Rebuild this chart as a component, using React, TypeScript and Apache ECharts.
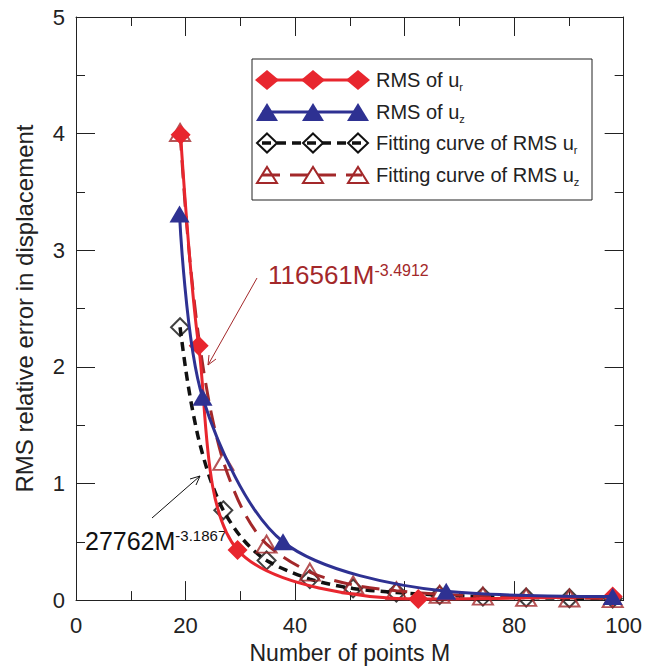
import React, { useEffect, useRef } from "react";
import * as echarts from "echarts";

// ---- data ----
const rmsUr: [number, number][] = [
  [19.1, 3.99], [22.4, 2.18], [29.5, 0.43], [62.5, 0.01], [98, 0.03],
];
const rmsUz: [number, number][] = [
  [18.9, 3.31], [23.1, 1.74], [37.8, 0.5], [67.6, 0.075], [98, 0.03],
];
const fitUrMarkers: [number, number][] = [
  [19, 2.34], [26.9, 0.77], [34.8, 0.34], [42.7, 0.18], [50.6, 0.1], [58.5, 0.065],
  [66.4, 0.043], [74.3, 0.03], [82.2, 0.022], [90.1, 0.016], [98, 0.013],
];
const fitUzMarkers: [number, number][] = [
  [19, 4.01], [26.9, 1.19], [34.8, 0.48], [42.7, 0.24], [50.6, 0.13], [58.5, 0.08],
  [66.4, 0.05], [74.3, 0.034], [82.2, 0.024], [90.1, 0.018], [98, 0.013],
];
const fitUrCurve: [number, number][] = [
  [19, 2.34], [20, 1.99], [21, 1.7], [22.5, 1.36], [24.5, 1.04], [26.9, 0.77],
  [30.5, 0.52], [34.8, 0.34], [42.7, 0.18], [50.6, 0.1], [58.5, 0.065], [66.4, 0.043],
  [74.3, 0.03], [82.2, 0.022], [90.1, 0.016], [98, 0.013],
];
const fitUzCurve: [number, number][] = [
  [19, 4.01], [20, 3.34], [21, 2.82], [22.5, 2.22], [24.5, 1.65], [26.9, 1.19],
  [30.5, 0.77], [34.8, 0.48], [42.7, 0.24], [50.6, 0.13], [58.5, 0.08], [66.4, 0.05],
  [74.3, 0.034], [82.2, 0.024], [90.1, 0.018], [98, 0.013],
];
const xTitle = "Number of points M";
const yTitle = "RMS relative error in displacement";
const legendNames = [
  ["RMS of u", "r"],
  ["RMS of u", "z"],
  ["Fitting curve of RMS u", "r"],
  ["Fitting curve of RMS u", "z"],
];
const fitUzLabel = ["116561M", "-3.4912"];
const fitUrLabel = ["27762M", "-3.1867"];

const RED = "#E8262E";
const BLUE = "#2E3192";
const BROWN = "#A3282A";
const BLACK = "#111";
const FONT = "Liberation Sans";
const AXIS = "#222";

function axisCommon(show: boolean) {
  return {
    type: "value" as const,
    axisLine: { show: true, onZero: false, lineStyle: { color: AXIS, width: 1 } },
    axisTick: { show: true, inside: true, length: 19, lineStyle: { color: AXIS, width: 1 } },
    minorTick: { show: true, splitNumber: 2, length: 9, lineStyle: { color: AXIS, width: 1 } },
    splitLine: { show: false },
    minorSplitLine: { show: false },
    axisLabel: { show, fontSize: 22, color: AXIS, fontFamily: FONT },
  };
}

export default function App() {
  const ref = useRef<HTMLDivElement>(null);
  useEffect(() => {
    if (!ref.current) return;
    const chart = echarts.init(ref.current, null, { renderer: "svg" });

    const rowY = [80, 112, 143, 175];
    const mx = [267, 313, 358];
    const legendEls: any[] = [
      {
        type: "rect",
        shape: { x: 252, y: 59, width: 340, height: 141 },
        style: { fill: "#fff", stroke: AXIS, lineWidth: 1 },
      },
    ];
    const diamond = (x: number, y: number, w: number, h: number) => [
      [x, y - h / 2], [x + w / 2, y], [x, y + h / 2], [x - w / 2, y],
    ];
    const tri = (x: number, y: number, w: number, h: number) => [
      [x - w / 2, y + h / 2], [x + w / 2, y + h / 2], [x, y - h / 2],
    ];
    // row 1: red
    legendEls.push({ type: "line", shape: { x1: 262, y1: rowY[0], x2: 362, y2: rowY[0] }, style: { stroke: RED, lineWidth: 3 } });
    mx.forEach((x) => legendEls.push({ type: "polygon", shape: { points: diamond(x, rowY[0], 24, 20) }, style: { fill: RED } }));
    // row 2: blue
    legendEls.push({ type: "line", shape: { x1: 262, y1: rowY[1], x2: 362, y2: rowY[1] }, style: { stroke: BLUE, lineWidth: 3 } });
    mx.forEach((x) => legendEls.push({ type: "polygon", shape: { points: tri(x, rowY[1], 22, 18) }, style: { fill: BLUE } }));
    // row 3: black dashed
    legendEls.push({ type: "line", shape: { x1: 262, y1: rowY[2], x2: 362, y2: rowY[2] }, style: { stroke: BLACK, lineWidth: 3.5, lineDash: [9, 6] } });
    mx.forEach((x) => legendEls.push({ type: "polygon", shape: { points: diamond(x, rowY[2], 20, 19) }, style: { fill: "none", stroke: BLACK, lineWidth: 2 } }));
    // row 4: brown dashed
    legendEls.push({ type: "line", shape: { x1: 262, y1: rowY[3], x2: 362, y2: rowY[3] }, style: { stroke: BROWN, lineWidth: 3, lineDash: [18, 10] } });
    mx.forEach((x) => legendEls.push({ type: "polygon", shape: { points: tri(x, rowY[3], 20, 16) }, style: { fill: "none", stroke: BROWN, lineWidth: 2 } }));
    legendNames.forEach(([main, sub], i) => {
      legendEls.push({
        type: "text",
        x: 376,
        y: rowY[i],
        style: {
          text: `{m|${main}}{s|${sub}}`,
          verticalAlign: "middle",
          fill: AXIS,
          rich: {
            m: { fontSize: 20, fontFamily: FONT, fill: AXIS, lineHeight: 24, verticalAlign: "middle" },
            s: { fontSize: 11, fontFamily: FONT, fill: AXIS, lineHeight: 11, verticalAlign: "bottom" },
          },
        },
      });
    });

    const annotations: any[] = [
      {
        type: "text",
        x: 268,
        y: 262,
        style: {
          text: `{m|${fitUzLabel[0]}}{s|${fitUzLabel[1]}}`,
          verticalAlign: "top",
          rich: {
            m: { fontSize: 26, fontFamily: FONT, fill: BROWN, lineHeight: 26, verticalAlign: "top" },
            s: { fontSize: 16, fontFamily: FONT, fill: BROWN, lineHeight: 16, verticalAlign: "top" },
          },
        },
      },
      { type: "line", shape: { x1: 257, y1: 278, x2: 208, y2: 365 }, style: { stroke: BROWN, lineWidth: 1 } },
      { type: "polyline", shape: { points: [[216, 359], [208, 365], [209, 355]] }, style: { stroke: BROWN, lineWidth: 1, fill: "none" } },
      {
        type: "text",
        x: 85,
        y: 528,
        style: {
          text: `{m|${fitUrLabel[0]}}{s|${fitUrLabel[1]}}`,
          verticalAlign: "top",
          rich: {
            m: { fontSize: 25, fontFamily: FONT, fill: BLACK, lineHeight: 26, verticalAlign: "top" },
            s: { fontSize: 15, fontFamily: FONT, fill: BLACK, lineHeight: 16, verticalAlign: "top" },
          },
        },
      },
      { type: "line", shape: { x1: 152, y1: 518, x2: 200, y2: 476 }, style: { stroke: BLACK, lineWidth: 1 } },
      { type: "polyline", shape: { points: [[190, 479], [200, 476], [196, 485]] }, style: { stroke: BLACK, lineWidth: 1, fill: "none" } },
    ];

    chart.setOption({
      animation: false,
      backgroundColor: "#fff",
      textStyle: { fontFamily: FONT },
      grid: { left: 76, right: 20, top: 17, bottom: 67, containLabel: false },
      xAxis: [
        {
          ...axisCommon(true),
          min: 0, max: 100, interval: 20, position: "bottom",
          axisLabel: { show: true, fontSize: 22, color: AXIS, fontFamily: FONT, margin: 14 },
          name: xTitle, nameLocation: "middle", nameGap: 36,
          nameTextStyle: { fontSize: 23, color: AXIS, fontFamily: FONT },
        },
        { ...axisCommon(false), min: 0, max: 100, interval: 20, position: "top" },
      ],
      yAxis: [
        {
          ...axisCommon(true),
          min: 0, max: 5, interval: 1, position: "left",
          axisLabel: { show: true, fontSize: 22, color: AXIS, fontFamily: FONT, margin: 11 },
          name: yTitle, nameLocation: "middle", nameGap: 40,
          nameTextStyle: { fontSize: 24, color: AXIS, fontFamily: FONT },
        },
        { ...axisCommon(false), min: 0, max: 5, interval: 1, position: "right" },
      ],
      series: [
        {
          type: "line", data: fitUrCurve, smooth: 0.3, symbol: "none", z: 2,
          lineStyle: { color: BLACK, width: 3.5, type: [9, 6] },
        },
        {
          type: "scatter", data: fitUrMarkers, symbol: "diamond", symbolSize: [18, 18], z: 3,
          itemStyle: { color: "rgba(0,0,0,0)", borderColor: BLACK, borderWidth: 2 },
        },
        {
          type: "line", data: fitUzCurve, smooth: 0.3, symbol: "none", z: 4,
          lineStyle: { color: BROWN, width: 3, type: [18, 10] },
        },
        {
          type: "scatter", data: fitUzMarkers, symbol: "triangle", symbolSize: [20, 17], z: 5,
          itemStyle: { color: "rgba(0,0,0,0)", borderColor: BROWN, borderWidth: 2 },
        },
        {
          type: "line", data: rmsUr, smooth: 0.3, symbol: "diamond", symbolSize: [20, 20], z: 6,
          showAllSymbol: true,
          itemStyle: { color: RED }, lineStyle: { color: RED, width: 3 },
        },
        {
          type: "line", data: rmsUz, smooth: 0.3, symbol: "triangle", symbolSize: [20, 17], z: 7,
          showAllSymbol: true,
          itemStyle: { color: BLUE }, lineStyle: { color: BLUE, width: 3 },
        },
      ],
      graphic: [...legendEls, ...annotations],
    });
    return () => chart.dispose();
  }, []);
  return (
    <div
      ref={ref}
      style={{ position: "fixed", left: 0, top: 0, width: 645, height: 669, background: "#fff" }}
    />
  );
}
